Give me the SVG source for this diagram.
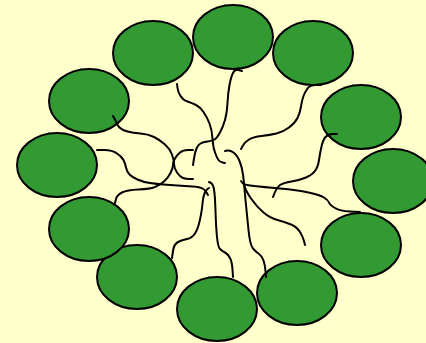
<svg xmlns="http://www.w3.org/2000/svg" width="426" height="343" viewBox="0 0 426 343">
<style>
.n{fill:#339933;stroke:#000;stroke-width:2}
.c{fill:none;stroke:#000;stroke-width:2;stroke-linecap:round;stroke-linejoin:round}
</style>
<rect width="426" height="343" fill="#ffffcc"/>
<g id="n1"><ellipse class="n" cx="153" cy="53" rx="40" ry="32"/></g>
<g id="n2"><ellipse class="n" cx="233" cy="37" rx="40" ry="32"/></g>
<g id="n3"><ellipse class="n" cx="313" cy="53" rx="40" ry="32"/></g>
<g id="n4"><ellipse class="n" cx="361" cy="117" rx="40" ry="32"/></g>
<g id="n5"><ellipse class="n" cx="393" cy="181" rx="40" ry="32"/></g>
<g id="n6"><ellipse class="n" cx="361" cy="245" rx="40" ry="32"/></g>
<g id="n7"><ellipse class="n" cx="297" cy="293" rx="40" ry="32"/></g>
<g id="n8"><ellipse class="n" cx="217" cy="309" rx="40" ry="32"/></g>
<g id="n9"><ellipse class="n" cx="137" cy="277" rx="40" ry="32"/></g>
<g id="n10"><ellipse class="n" cx="89" cy="229" rx="40" ry="32"/></g>
<g id="n11"><ellipse class="n" cx="57" cy="165" rx="40" ry="32"/></g>
<g id="n12"><ellipse class="n" cx="89" cy="101" rx="40" ry="32"/></g>
<g id="connectors">
<path class="c" d="M177,84 L177.5,88 Q178,92 180.5,96 Q183,100 187.5,101.5 Q192,103 196,105 Q200,107 203.5,112 Q207,117 209.5,123.5 Q212,130 212.5,138.5 Q213,147 215,152.5 Q217,158 218.5,160 Q220,162 222.5,162.5 L225,163"/>
<path class="c" d="M242,71 L238.5,70 Q235,69 233,73 Q231,77 229.5,85 Q228,93 227.5,103 Q227,113 225,120 Q223,127 220,132.5 Q217,138 214.5,139.5 Q212,141 207.5,141.5 Q203,142 200.5,143.5 Q198,145 196.5,148.5 Q195,152 194,158.5 L193,165"/>
<path class="c" d="M321,85 L315.5,85 Q310,85 307.5,88.5 Q305,92 303.5,96 Q302,100 301,106.5 Q300,113 297.5,118 Q295,123 289,127.5 Q283,132 276.5,133.5 Q270,135 261.5,136 Q253,137 249,139.5 Q245,142 243,145.5 L241,149"/>
<path class="c" d="M337,134 L332.5,134 Q328,134 325.5,137 Q323,140 321.5,146.5 Q320,153 319,160 Q318,167 315,171 Q312,175 306,177.5 Q300,180 291.5,181.5 Q283,183 280,185 Q277,187 275,192 L273,197"/>
<path class="c" d="M113,116 L115.5,120.5 Q117,125 119.5,127.5 Q122,130 127.5,131.5 Q133,133 140.5,133.5 Q148,134 154,137 Q160,140 165,144.5 Q170,149 172,154.5 Q174,160 174,164 Q174,168 177,172.5 Q180,177 183,178 Q186,179 189.5,179 L193,179"/>
<path class="c" d="M115,203 L116,199 Q117,195 122,192.5 Q127,190 138.5,189.5 Q150,189 155,187 Q160,185 164,181.5 Q168,178 170.5,173 Q173,168 173,165 Q173,162 175,158.5 Q177,155 180,152.5 Q183,150 188,150 L193,150"/>
<path class="c" d="M97,150 L104.5,150 Q112,150 117,153.5 Q122,157 123.5,160 Q125,163 126,167.5 Q127,172 129.5,174.5 Q132,177 137.5,179.5 Q143,182 150,183 Q157,184 163.5,184.5 Q170,185 177.5,185.5 Q185,186 192.5,186.5 Q200,187 202.5,188.5 Q205,190 206.5,192.5 L208,195"/>
<path class="c" d="M209,182 L211,183 Q213,184 214,189.5 Q215,195 215.5,211 Q216,227 217,237 Q218,247 220,249 Q222,251 225,252.5 Q228,254 230,258 Q232,262 232.5,269.5 L233,277"/>
<path class="c" d="M172,258 L173,251 Q174,244 178,242 Q182,240 187,239 Q192,238 195,233.5 Q198,229 200,219.5 Q202,210 202.5,203.5 Q203,197 204.5,193.5 Q206,190 207.5,189 L209,188"/>
<path class="c" d="M225,151 L227.5,150.5 Q230,150 233.5,152.5 Q237,155 239.5,161 Q242,167 243,174.5 Q244,182 244.5,188.5 Q245,195 246,205 Q247,215 248.5,230 Q250,245 253,248.5 Q256,252 259,254 Q262,256 263.5,260.5 Q265,265 265.5,271 L266,277"/>
<path class="c" d="M244,184 Q245,190 251,198.5 Q257,207 263.5,212.5 Q270,218 277.5,220 Q285,222 291,224.5 Q297,227 300,232 Q303,237 304,241 L305,245"/>
<path class="c" d="M241,181 L243,183.5 Q245,185 254,186 Q263,187 280,188.5 Q297,190 308.5,192.5 Q320,195 324,197.5 Q328,200 329,202.5 Q330,205 335,208 Q340,211 350,211.5 L360,212"/>
</g>
</svg>
